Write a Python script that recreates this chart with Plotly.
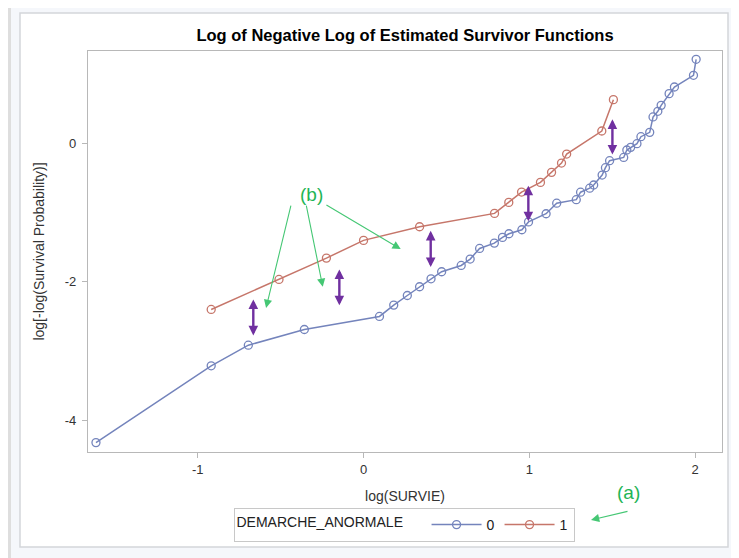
import plotly.graph_objects as go

# ---------------- data ----------------
x_group0 = [-1.614, -0.919, -0.695, -0.357, 0.096, 0.182, 0.264, 0.338, 0.407, 0.471,
            0.589, 0.643, 0.700, 0.789, 0.838, 0.877, 0.955, 0.995, 1.101, 1.165,
            1.283, 1.309, 1.364, 1.388, 1.439, 1.459, 1.484, 1.569, 1.588, 1.611,
            1.649, 1.673, 1.726, 1.746, 1.775, 1.795, 1.843, 1.875, 1.990, 2.006]
y_group0 = [-4.323, -3.214, -2.916, -2.689, -2.501, -2.337, -2.198, -2.072, -1.957, -1.855,
            -1.764, -1.672, -1.518, -1.441, -1.359, -1.306, -1.248, -1.135, -1.017, -0.865,
            -0.814, -0.706, -0.648, -0.602, -0.458, -0.352, -0.251, -0.204, -0.096, -0.058,
            -0.005, 0.096, 0.159, 0.381, 0.463, 0.549, 0.718, 0.814, 0.983, 1.214]

x_group1 = [-0.919, -0.510, -0.224, 0.000, 0.338, 0.790, 0.876, 0.953, 1.067, 1.134,
            1.194, 1.225, 1.437, 1.507]
y_group1 = [-2.400, -1.966, -1.658, -1.402, -1.205, -1.012, -0.853, -0.704, -0.564, -0.419,
            -0.285, -0.155, 0.178, 0.631]

group_names = ["0", "1"]
legend_title = "DEMARCHE_ANORMALE"
chart_title = "Log of Negative Log of Estimated Survivor Functions"
x_title = "log(SURVIE)"
y_title = "log[-log(Survival Probability)]"

x_tick_vals = [-1, 0, 1, 2]
x_tick_text = ["-1", "0", "1", "2"]
y_tick_vals = [-4, -2, 0]
y_tick_text = ["-4", "-2", "0"]

# purple double arrows (x, y_top, y_bottom)
gap_x = [-0.665, -0.146, 0.405, 0.994, 1.501]
gap_top = [-2.255, -1.822, -1.264, -0.612, 0.347]
gap_bottom = [-2.796, -2.362, -1.808, -1.148, -0.184]

# green "(b)" pointers: tail (x, y) -> head (x, y)
b_tail_x = [-0.436, -0.347, -0.233]
b_tail_y = [-0.878, -0.878, -0.878]
b_head_x = [-0.588, -0.246, 0.224]
b_head_y = [-2.377, -2.073, -1.528]
b_label = "(b)"
a_label = "(a)"

# ---------------- styling ----------------
OFF = 8                      # page body margin of the exported html
W, H = 739 - OFF, 558 - OFF
L, R, T, B = 88 - OFF, 17, 51 - OFF, 106
PW, PH = W - L - R, H - T - B
BLUE = "#7484bc"
RED = "#c6766a"
GREEN = "#1fb556"
GREEN_LINE = "#45c774"
PURPLE = "#7030a0"
FONT = "Liberation Sans, Arial, sans-serif"


def px_x(p):
    """reference-image pixel column -> paper x"""
    return (p - OFF - L) / PW


def px_y(p):
    """reference-image pixel row -> paper y"""
    return (H - B - (p - OFF)) / PH


fig = go.Figure()
fig.add_trace(go.Scatter(
    x=x_group0, y=y_group0, mode="lines+markers", name=group_names[0],
    line=dict(color=BLUE, width=1.5),
    marker=dict(symbol="circle-open", size=8, color=BLUE, line=dict(width=1.3)),
))
fig.add_trace(go.Scatter(
    x=x_group1, y=y_group1, mode="lines+markers", name=group_names[1],
    line=dict(color=RED, width=1.5),
    marker=dict(symbol="circle-open", size=8, color=RED, line=dict(width=1.3)),
))

annotations = []
for gx, gt, gb in zip(gap_x, gap_top, gap_bottom):
    annotations.append(dict(
        x=gx, y=gt, ax=gx, ay=gb, xref="x", yref="y", axref="x", ayref="y",
        text="", showarrow=True, arrowhead=2, arrowside="end+start",
        arrowsize=0.8, arrowwidth=2.4, arrowcolor=PURPLE, standoff=0, startstandoff=0,
    ))
for tx, ty, hx, hy in zip(b_tail_x, b_tail_y, b_head_x, b_head_y):
    annotations.append(dict(
        x=hx, y=hy, ax=tx, ay=ty, xref="x", yref="y", axref="x", ayref="y",
        text="", showarrow=True, arrowhead=2, arrowsize=1.5, arrowwidth=1.1,
        arrowcolor=GREEN_LINE, standoff=0,
    ))
annotations.append(dict(
    x=px_x(298), y=px_y(182), xref="paper", yref="paper", text=b_label,
    showarrow=False, font=dict(size=19, color=GREEN, family=FONT),
))
annotations.append(dict(
    x=px_x(591), y=px_y(520), xref="paper", yref="paper", text="",
    showarrow=True, ax=38, ay=-9, arrowhead=2, arrowsize=1.5, arrowwidth=1.1,
    arrowcolor=GREEN_LINE, standoff=0,
))
annotations.append(dict(
    x=px_x(642), y=px_y(505), xref="paper", yref="paper", text=a_label,
    showarrow=False, font=dict(size=19, color=GREEN, family=FONT),
))

shapes = [
    # screenshot shadow bands
    dict(type="rect", xref="paper", yref="paper", x0=px_x(OFF), x1=px_x(11), y0=px_y(558), y1=px_y(OFF),
         fillcolor="#dedede", line=dict(width=0), layer="below"),
    # white panel
    dict(type="rect", xref="paper", yref="paper", x0=px_x(20), x1=px_x(728), y0=px_y(547), y1=px_y(13),
         fillcolor="white", line=dict(color="#d4d6da", width=1.5), layer="below"),
]

axis_common = dict(
    showline=True, linecolor="#b8b8b8", linewidth=1.3, mirror=True,
    showgrid=False, zeroline=False, ticks="outside", ticklen=5, tickcolor="#b8b8b8",
    tickfont=dict(size=13, color="#333333", family=FONT),
    automargin=False,
)

fig.update_layout(
    width=W, height=H,
    margin=dict(l=L, r=R, t=T, b=B, autoexpand=False),
    paper_bgcolor="#f5f7fb",
    plot_bgcolor="white",
    font=dict(family=FONT, color="#222222"),
    title=dict(text="<b>" + chart_title + "</b>", x=0.5, xref="paper",
               y=1 - (35 - OFF) / H, yref="container", yanchor="middle",
               font=dict(size=16.5, color="black", family=FONT)),
    xaxis=dict(range=[-1.662, 2.162], tickvals=x_tick_vals, ticktext=x_tick_text,
               title=dict(text=x_title, font=dict(size=14, color="#333333"), standoff=15),
               **axis_common),
    yaxis=dict(range=[-4.459, 1.334], tickvals=y_tick_vals, ticktext=y_tick_text,
               ticklabelstandoff=3,
               title=dict(text=y_title, font=dict(size=14, color="#333333"), standoff=16),
               **axis_common),
    legend=dict(orientation="h", x=px_x(404), xanchor="center", y=px_y(525), yanchor="middle",
                bgcolor="white", bordercolor="#c8c8c8", borderwidth=1,
                title=dict(text=legend_title + "    ", font=dict(size=14, color="#222222"), side="left"),
                font=dict(size=14, color="#222222"), itemwidth=50),
    showlegend=True,
    annotations=annotations,
    shapes=shapes,
)

fig.write_html("out.html")
